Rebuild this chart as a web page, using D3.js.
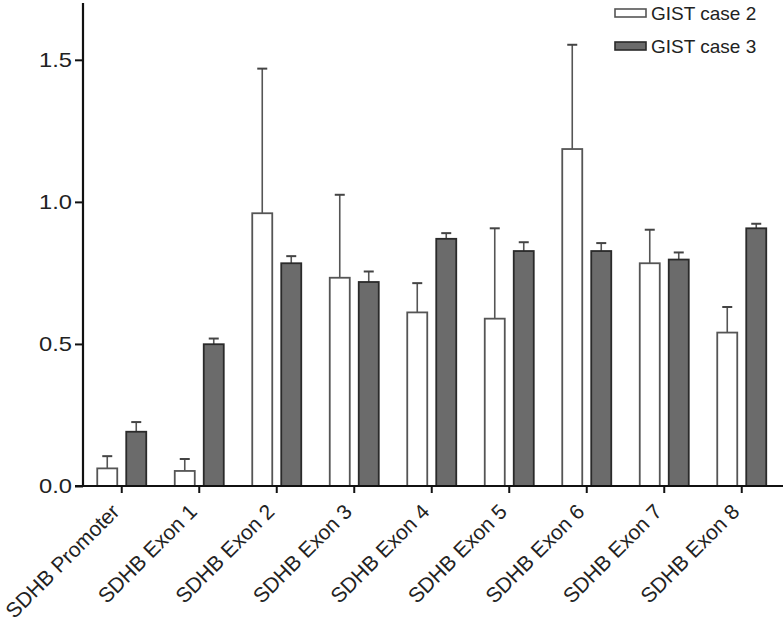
<!DOCTYPE html>
<html>
<head>
<meta charset="utf-8">
<script src="https://cdn.jsdelivr.net/npm/d3@7"></script>
<style>
  html, body { margin: 0; padding: 0; background: #fff; }
  svg { display: block; font-family: "Liberation Sans", Arial, sans-serif; }
</style>
</head>
<body>
<svg id="chart" width="783" height="626"></svg>
<script>
const categories = ["SDHB Promoter", "SDHB Exon 1", "SDHB Exon 2", "SDHB Exon 3", "SDHB Exon 4",
                    "SDHB Exon 5", "SDHB Exon 6", "SDHB Exon 7", "SDHB Exon 8"];
const seriesNames = ["GIST case 2", "GIST case 3"];
const case2Values = [0.062, 0.053, 0.960, 0.733, 0.611, 0.589, 1.186, 0.784, 0.540];
const case2Upper  = [0.105, 0.095, 1.469, 1.025, 0.714, 0.907, 1.553, 0.902, 0.630];
const case3Values = [0.191, 0.499, 0.784, 0.718, 0.870, 0.827, 0.827, 0.797, 0.907];
const case3Upper  = [0.225, 0.519, 0.809, 0.755, 0.890, 0.858, 0.855, 0.822, 0.923];
const yTicks = [0.0, 0.5, 1.0, 1.5];

const svg = d3.select("#chart");
const mLeft = 83, mRight = 780.5, mTop = 3, mBottom = 486;

const y = d3.scaleLinear().domain([0, 1.7]).range([mBottom, mTop]);
const x = d3.scaleBand().domain(categories).range([mLeft, mRight]).padding(0);
const x1 = d3.scaleBand().domain(seriesNames).range([0, 49]).paddingInner(0.31).paddingOuter(0);
const off = (x.bandwidth() - 49) / 2;

const data = [];
categories.forEach((c, i) => {
  data.push({cat: c, s: seriesNames[0], v: case2Values[i], e: case2Upper[i]});
  data.push({cat: c, s: seriesNames[1], v: case3Values[i], e: case3Upper[i]});
});
const fill = {"GIST case 2": "#ffffff", "GIST case 3": "#6b6b6b"};
const stroke = {"GIST case 2": "#555555", "GIST case 3": "#2a2a2a"};

// error bars
const eg = svg.append("g");
data.forEach(d => {
  const cx = x(d.cat) + off + x1(d.s) + x1.bandwidth() / 2;
  eg.append("line").attr("x1", cx).attr("x2", cx)
    .attr("y1", y(d.v)).attr("y2", y(d.e))
    .attr("stroke", "#555").attr("stroke-width", 1.6);
  eg.append("line").attr("x1", cx - 5).attr("x2", cx + 5)
    .attr("y1", y(d.e)).attr("y2", y(d.e))
    .attr("stroke", "#444").attr("stroke-width", 2);
});

// bars
svg.append("g").selectAll("rect").data(data).join("rect")
  .attr("x", d => x(d.cat) + off + x1(d.s))
  .attr("y", d => y(d.v))
  .attr("width", x1.bandwidth())
  .attr("height", d => y(0) - y(d.v))
  .attr("fill", d => fill[d.s])
  .attr("stroke", d => stroke[d.s])
  .attr("stroke-width", 1.8);

// y axis
const yAxis = svg.append("g").attr("transform", `translate(${mLeft},0)`)
  .call(d3.axisLeft(y).tickValues(yTicks).tickFormat(d3.format(".1f")).tickSize(8).tickPadding(3));
yAxis.select(".domain").attr("d", `M0,${mTop}V${mBottom}`).attr("stroke", "#111").attr("stroke-width", 2.2);
yAxis.selectAll(".tick line").attr("stroke", "#111").attr("stroke-width", 2);
yAxis.selectAll(".tick text").attr("font-size", 21).attr("fill", "#222")
  .attr("font-family", "Liberation Sans, Arial, sans-serif").attr("textLength", 33).attr("lengthAdjust", "spacingAndGlyphs");

// x axis
const xAxis = svg.append("g").attr("transform", `translate(0,${mBottom})`)
  .call(d3.axisBottom(x).tickSize(7).tickFormat(""));
xAxis.select(".domain").attr("d", `M${mLeft - 8},0H783`).attr("stroke", "#111").attr("stroke-width", 2.2);
xAxis.selectAll(".tick line").attr("stroke", "#111").attr("stroke-width", 2);

// x labels
svg.append("g").selectAll("text").data(categories).join("text")
  .attr("transform", d => `translate(${x(d) + x.bandwidth() / 2 - 1},${mBottom + 27}) rotate(-45)`)
  .attr("text-anchor", "end")
  .attr("font-size", 21)
  .attr("fill", "#222")
  .text(d => d);

// legend
const lg = svg.append("g");
seriesNames.forEach((s, i) => {
  const yy = 9 + i * 33;
  lg.append("rect").attr("x", 615).attr("y", yy).attr("width", 31).attr("height", 8)
    .attr("fill", fill[s]).attr("stroke", stroke[s]).attr("stroke-width", 1.6);
  lg.append("text").attr("x", 651).attr("y", yy + 4).attr("dy", "0.36em")
    .attr("font-size", 19).attr("fill", "#222").text(s);
});
</script>
</body>
</html>
